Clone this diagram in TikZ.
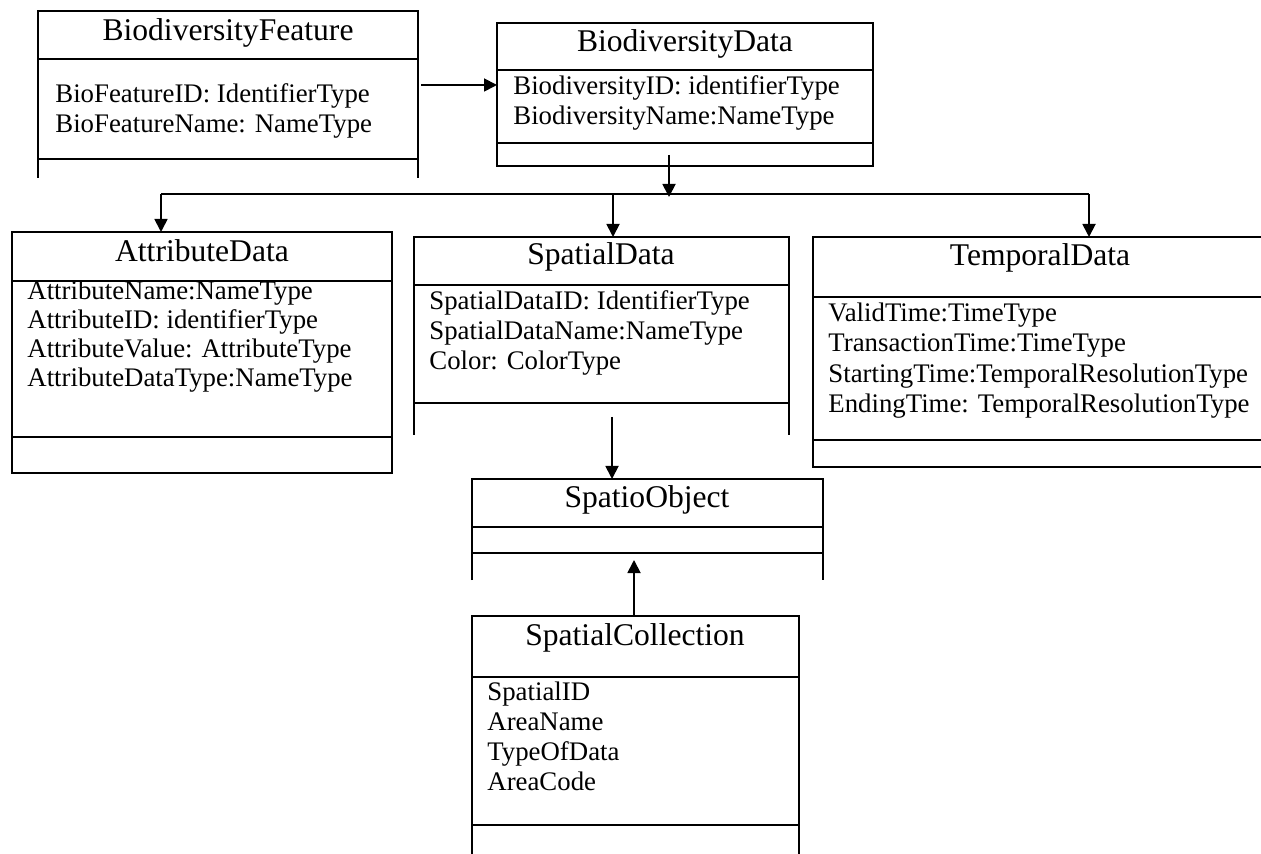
\documentclass[tikz,border=0pt]{standalone}
\usepackage{fontspec}
\setmainfont{Liberation Serif}
\usetikzlibrary{arrows.meta}

\tikzset{
  frame/.style={line width=0.6pt},
  link/.style={line width=0.9pt, -{Triangle[length=6.5pt,width=6.5pt]}},
  title/.style={anchor=base, inner sep=0pt, font=\fontsize{15.8}{18}\selectfont},
  attr/.style={anchor=base west, inner sep=0pt, font=\fontsize{13.4}{16}\selectfont},
}

\begin{document}
\begin{tikzpicture}[x=0.5pt, y=-0.5pt]
\useasboundingbox (0,0) rectangle (1261,854);

% BiodiversityFeature
\draw[frame] (38,178) -- (38,11) -- (418,11) -- (418,178);
\draw[frame] (38,59) -- (418,59) (38,159) -- (418,159);
\node[title] (bf) at (228,41) {BiodiversityFeature};
\foreach \field [count=\i] in {BioFeatureID: IdentifierType, BioFeatureName: NameType}
  \node[attr] (bf-\i) at (55,73+30*\i) {\field};

% BiodiversityData
\draw[frame] (497,23) rectangle (873,166);
\draw[frame] (497,70) -- (873,70) (497,143) -- (873,143);
\node[title] (bd) at (685,52) {BiodiversityData};
\foreach \field [count=\i] in {BiodiversityID: identifierType, BiodiversityName:NameType}
  \node[attr] (bd-\i) at (513,65+30*\i) {\field};

% AttributeData
\draw[frame] (12,232) rectangle (392,473);
\draw[frame] (12,281) -- (392,281) (12,437) -- (392,437);
\node[title] (ad) at (202,262) {AttributeData};
\foreach \field [count=\i] in {AttributeName:NameType, AttributeID: identifierType,
    AttributeValue: AttributeType, AttributeDataType:NameType}
  \node[attr] (ad-\i) at (27,271+29*\i) {\field};

% SpatialData
\draw[frame] (414,435) -- (414,237) -- (789,237) -- (789,435);
\draw[frame] (414,285) -- (789,285) (414,403) -- (789,403);
\node[title] (sd) at (601,265) {SpatialData};
\foreach \field [count=\i] in {SpatialDataID: IdentifierType, SpatialDataName:NameType,
    Color: ColorType}
  \node[attr] (sd-\i) at (429,280+30*\i) {\field};

% TemporalData
\draw[frame] (1261,237) -- (813,237) -- (813,467) -- (1261,467);
\draw[frame] (813,297) -- (1261,297) (813,440) -- (1261,440);
\node[title] (td) at (1040,266) {TemporalData};
\foreach \field [count=\i] in {ValidTime:TimeType, TransactionTime:TimeType,
    StartingTime:TemporalResolutionType, EndingTime: TemporalResolutionType}
  \node[attr] (td-\i) at (828,291+30.5*\i) {\field};

% SpatioObject
\draw[frame] (472,580) -- (472,479) -- (823,479) -- (823,580);
\draw[frame] (472,527) -- (823,527) (472,553) -- (823,553);
\node[title] (so) at (647,508) {SpatioObject};

% SpatialCollection
\draw[frame] (472,854) -- (472,616) -- (799,616) -- (799,854);
\draw[frame] (472,677) -- (799,677) (472,825) -- (799,825);
\node[title] (sc) at (635,645) {SpatialCollection};
\foreach \field [count=\i] in {SpatialID, AreaName, TypeOfData, AreaCode}
  \node[attr] (sc-\i) at (487,670+30*\i) {\field};

% connectors
\coordinate (bf-e) at (421,85);
\coordinate (bd-w) at (497,85);
\coordinate (bd-s) at (669,155);
\coordinate (bus-c) at (669,197);
\coordinate (bus-w) at (161,194);
\coordinate (bus-m) at (613,194);
\coordinate (bus-e) at (1089,194);
\coordinate (ad-n) at (161,232);
\coordinate (sd-n) at (613,237);
\coordinate (td-n) at (1089,237);
\coordinate (sd-s) at (612,417);
\coordinate (so-n) at (612,479);
\coordinate (sc-n) at (634,616);
\coordinate (so-s) at (634,560);

\draw[link] (bf-e) -- (bd-w);
\draw[link] (bd-s) -- (bus-c);
\draw[line width=0.9pt] (bus-w) -- (bus-e);
\draw[link] (bus-w) -- (ad-n);
\draw[link] (bus-m) -- (sd-n);
\draw[link] (bus-e) -- (td-n);
\draw[link] (sd-s) -- (so-n);
\draw[link] (sc-n) -- (so-s);
\end{tikzpicture}
\end{document}
